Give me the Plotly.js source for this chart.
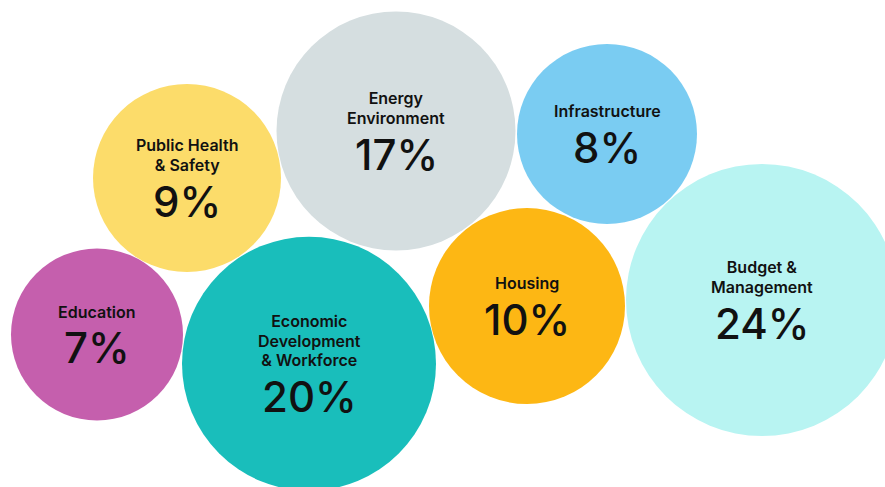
<!DOCTYPE html>
<html>
<head>
<meta charset="utf-8">
<script src="https://cdn.plot.ly/plotly-3.0.1.min.js"></script>
<style>html,body{margin:0;padding:0;background:#fff;}#chart{width:885px;height:487px;}</style>
</head>
<body>
<div id="chart"></div>
<script>
// Data
const categories = ["Education", "Public Health<br>& Safety", "Energy<br>Environment", "Infrastructure",
  "Economic<br>Development<br>& Workforce", "Housing", "Budget &<br>Management"];
const values = [7, 9, 17, 8, 20, 10, 24];

// Layout (bubble placement in pixels) and styles
const cx = [97, 187, 396, 607, 309, 527, 762];
const cy = [334.5, 178, 131, 134, 363.7, 306, 300];
const radius = [86, 94, 119.5, 90, 127, 98, 136];
const colors = ["#C55FAD", "#FCDC6A", "#D5DEE0", "#7ACCF2", "#19BEBB", "#FDB714", "#B8F4F2"];

const W = 885, H = 487;
const BASE = 15, SPACING = 1.3 * BASE, LABEL = 16, CAP = 11.6, GAP = 15, PCTSIZE = 42, PCTCAP = 30.5;

const trace = {
  type: "scatter", mode: "markers",
  x: cx, y: cy,
  marker: {size: radius.map(r => 2 * r), sizemode: "diameter", color: colors, line: {width: 0}, opacity: 1},
  hoverinfo: "skip", cliponaxis: true
};

const annotations = [];
categories.forEach((lab, i) => {
  const lines = lab.split("<br>");
  const n = lines.length;
  const blockH = CAP + (n - 1) * SPACING + GAP + PCTCAP;
  const top = cy[i] - blockH / 2;
  const firstBase = top + CAP;
  const lastBase = firstBase + (n - 1) * SPACING;
  // bbox centre of label text: between first-line ascent and last-line descent
  const labelMid = ((firstBase - 0.969 * LABEL) + (lastBase + 0.242 * LABEL)) / 2;
  const pctMid = lastBase + GAP + PCTCAP / 2;
  annotations.push({
    x: cx[i], y: labelMid, xref: "x", yref: "y",
    text: lines.map(s => '<span style="font-size:' + LABEL + 'px">' + s + '</span>').join("<br>"),
    showarrow: false, xanchor: "center", yanchor: "middle", align: "center",
    borderpad: 0, borderwidth: 0,
    font: {family: "Inter, Lato, sans-serif", size: BASE, color: "#111", weight: 600}
  });
  annotations.push({
    x: cx[i], y: pctMid, xref: "x", yref: "y", text: values[i] + "%", showarrow: false,
    xanchor: "center", yanchor: "middle", borderpad: 0, borderwidth: 0,
    font: {family: "Inter, Lato, sans-serif", size: PCTSIZE, color: "#111", weight: 500}
  });
});

const layout = {
  width: W, height: H,
  margin: {l: 0, r: 0, t: 0, b: 0},
  paper_bgcolor: "#fff", plot_bgcolor: "#fff",
  showlegend: false,
  xaxis: {range: [0, W], visible: false, fixedrange: true},
  yaxis: {range: [H, 0], visible: false, fixedrange: true},
  annotations: annotations
};

Plotly.newPlot("chart", [trace], layout, {displayModeBar: false, staticPlot: true});
</script>
</body>
</html>
